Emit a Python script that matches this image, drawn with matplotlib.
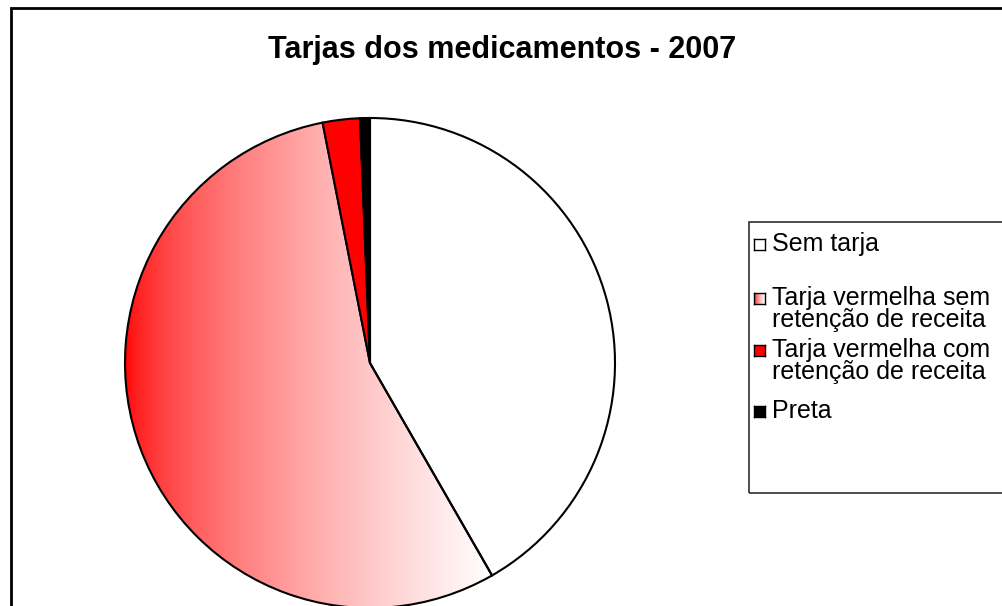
import numpy as np
import matplotlib.pyplot as plt
from matplotlib.patches import Rectangle

# data
categories = ["Sem tarja",
              "Tarja vermelha sem\nretenção de receita",
              "Tarja vermelha com\nretenção de receita",
              "Preta"]
shares = [41.7, 55.2, 2.45, 0.65]
title = "Tarjas dos medicamentos - 2007"

plt.rcParams["font.family"] = ["Liberation Sans", "DejaVu Sans"]

W, H = 1002, 606
fig = plt.figure(figsize=(W / 100, H / 100), dpi=100)


def px(x, y, w, h):
    """pixel box (top-left origin) -> figure fraction rect"""
    return [x / W, 1 - (y + h) / H, w / W, h / H]


def red_white(n=256, gamma=0.6):
    g = np.linspace(0, 1, n) ** gamma
    img = np.ones((1, n, 3))
    img[0, :, 1] = g
    img[0, :, 2] = g
    return img


# outer chart frame (runs off the right and bottom edge)
fig.patches.append(Rectangle((11 / W, -0.1), 1.2, 1 - 8 / H + 0.1,
                             transform=fig.transFigure, fill=False,
                             edgecolor="black", linewidth=2))

fig.text(502 / W, 1 - 50 / H, title, ha="center", va="center",
         fontsize=22, fontweight="bold")

# pie
cx, cy, r = 370, 363, 245
ax = fig.add_axes(px(cx - r, cy - r, 2 * r, 2 * r))
face = ["white", "none", "#ff0000", "black"]
wedges, _ = ax.pie(shares, colors=face, startangle=90, counterclock=False,
                   radius=1,
                   wedgeprops=dict(edgecolor="black", linewidth=1.5))
ax.set_xlim(-1, 1)
ax.set_ylim(-1, 1)
ax.set_axis_off()

# gradient fill of the big slice, clipped to the wedge
w = wedges[1]
ext = w.get_path().get_extents(w.get_patch_transform())
im = ax.imshow(red_white(), extent=[ext.x0, ext.x1, -1, 1],
               aspect="auto", zorder=0.5, interpolation="bilinear")
im.set_clip_path(w)

# legend, drawn by hand to keep Excel's spacing
fig.patches.append(Rectangle((749 / W, 1 - 493 / H), 1, (493 - 222) / H,
                             transform=fig.transFigure, fill=False,
                             edgecolor="#303030", linewidth=1.2))
entry_y = [244, 298, 350, 411]
for lab, y, fc in zip(categories, entry_y, face):
    sw = fig.add_axes(px(754, y - 5, 11, 11))
    if fc == "none":
        sw.imshow(red_white(32), aspect="auto", extent=[0, 1, 0, 1])
    else:
        sw.set_facecolor(fc)
    sw.set_xticks([])
    sw.set_yticks([])
    for s in sw.spines.values():
        s.set_linewidth(1.0)
    for i, line in enumerate(lab.split("\n")):
        fig.text(772 / W, 1 - (y + i * 22.5) / H, line, ha="left",
                 va="center", fontsize=18)

fig.savefig("out.png", dpi=100)
